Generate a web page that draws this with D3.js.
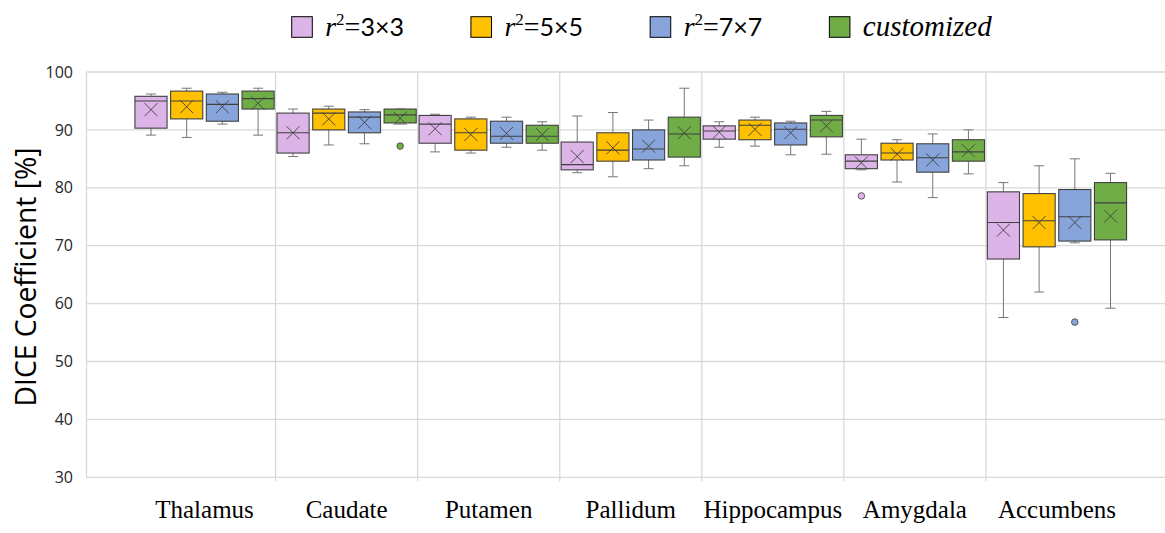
<!DOCTYPE html>
<meta charset="utf-8">
<head>
	<style type="text/css">
		body { margin: 0; background: #fff; }
		.grid line { stroke: #d9d9d9; stroke-width: 1.3; }
		.tick-label { font-family: "Open Sans", sans-serif; font-size: 16px; fill: #262626; }
		.cat-label { font-family: "Liberation Serif", "Times New Roman", serif; font-size: 25px; fill: #000; }
	</style>
	<title>DICE Coefficient by Structure</title>
</head>
<script src="https://cdn.jsdelivr.net/npm/d3@7"></script>
<svg width="1165" height="533" id="svg1"></svg>

<script>
	// data: [low whisker, q1, median, q3, high whisker, mean]
	const categories = ["Thalamus", "Caudate", "Putamen", "Pallidum", "Hippocampus", "Amygdala", "Accumbens"];
	const seriesNames = ["3×3", "5×5", "7×7", "customized"];

	const stats3x3 = [
		[89.1, 90.3, 95.0, 95.8, 96.2, 93.5],
		[85.4, 86.0, 89.5, 92.9, 93.6, 89.5],
		[86.2, 87.7, 91.0, 92.5, 92.7, 90.2],
		[82.6, 83.1, 84.0, 87.9, 92.4, 85.4],
		[87.0, 88.4, 89.8, 90.7, 91.4, 89.6],
		[83.1, 83.3, 84.6, 85.7, 88.4, 84.3],
		[57.6, 67.7, 74.0, 79.3, 80.9, 72.7]
	];
	const stats5x5 = [
		[88.7, 91.9, 95.0, 96.7, 97.2, 94.0],
		[87.4, 90.0, 92.9, 93.6, 94.1, 91.9],
		[86.0, 86.5, 89.5, 91.9, 92.2, 89.2],
		[81.9, 84.6, 86.5, 89.5, 93.0, 86.9],
		[87.2, 88.3, 90.8, 91.7, 92.2, 90.1],
		[81.0, 84.8, 86.0, 87.7, 88.3, 85.8],
		[62.0, 69.8, 74.3, 79.0, 83.8, 74.0]
	];
	const stats7x7 = [
		[91.0, 91.5, 94.4, 96.2, 96.5, 94.0],
		[87.6, 89.5, 92.2, 93.1, 93.5, 91.3],
		[87.0, 87.7, 88.9, 91.5, 92.2, 89.4],
		[83.3, 84.8, 86.7, 90.0, 91.7, 87.2],
		[85.7, 87.4, 90.1, 91.2, 91.5, 89.5],
		[78.3, 82.7, 85.2, 87.6, 89.3, 84.8],
		[70.5, 70.8, 75.0, 79.7, 85.0, 74.0]
	];
	const statsCustom = [
		[89.1, 93.6, 95.4, 96.7, 97.2, 94.6],
		[91.0, 91.2, 92.6, 93.6, 93.6, 92.0],
		[86.5, 87.7, 88.9, 90.8, 91.4, 89.2],
		[83.8, 85.3, 89.3, 92.2, 97.2, 89.5],
		[85.8, 88.8, 91.7, 92.5, 93.2, 90.7],
		[82.4, 84.6, 86.2, 88.3, 90.0, 86.4],
		[59.2, 71.0, 77.4, 80.9, 82.5, 75.1]
	];
	// outliers: [category, series index, value]
	const outliers = [
		["Caudate", 3, 87.2],
		["Amygdala", 0, 78.6],
		["Accumbens", 2, 56.8]
	];
	const yTicks = [30, 40, 50, 60, 70, 80, 90, 100];

	const allStats = [stats3x3, stats5x5, stats7x7, statsCustom];
	const colors = ["#dcb4e8", "#ffc000", "#87a5db", "#70ad47"];

	const svg1 = d3.select('#svg1');
	const width = +svg1.attr('width');

	const plotLeft = 86.5;

	const xScale = d3.scaleBand()
		.domain(categories)
		.range([133.5, 1128]);

	const sScale = d3.scaleBand()
		.domain(d3.range(seriesNames.length))
		.range([0, xScale.bandwidth()])
		.paddingInner(0.1)
		.paddingOuter(0.04);

	const yScale = d3.scaleLinear()
		.domain([30, 100])
		.range([477.3, 72]);

	//gridlines
	const grid = svg1.append('g').attr('class', 'grid');
	grid.selectAll('.hline')
		.data(yTicks)
		.enter().append('line')
		.attr('x1', plotLeft)
		.attr('x2', width)
		.attr('y1', d => yScale(d))
		.attr('y2', d => yScale(d));

	grid.append('line')
		.attr('x1', plotLeft).attr('x2', plotLeft)
		.attr('y1', yScale(100)).attr('y2', yScale(30));

	grid.selectAll('.vline')
		.data(categories.slice(1))
		.enter().append('line')
		.attr('x1', d => xScale(d))
		.attr('x2', d => xScale(d))
		.attr('y1', yScale(100))
		.attr('y2', yScale(30) + 4);

	//y axis
	const yAxis = d3.axisLeft(yScale)
		.tickValues(yTicks)
		.tickSize(0)
		.tickPadding(13.5);

	const yAxisG = svg1.append('g')
		.attr('transform', `translate(${plotLeft},0)`)
		.call(yAxis);
	yAxisG.select('.domain').remove();
	yAxisG.selectAll('text').attr('class', 'tick-label').attr('font-family', null).attr('font-size', null);

	//x axis labels
	const xAxis = d3.axisBottom(xScale).tickSize(0);
	const xAxisG = svg1.append('g')
		.attr('transform', `translate(0,${yScale(30)})`)
		.call(xAxis);
	xAxisG.select('.domain').remove();
	xAxisG.selectAll('text')
		.attr('class', 'cat-label')
		.attr('font-family', null).attr('font-size', null)
		.attr('dy', null)
		.attr('y', 40.7);

	//y title
	svg1.append('text')
		.attr('transform', 'translate(35.5,277) rotate(-90)')
		.attr('text-anchor', 'middle')
		.attr('font-family', '"Open Sans", sans-serif')
		.attr('font-size', '30px')
		.attr('fill', '#000')
		.attr('textLength', 259)
		.attr('lengthAdjust', 'spacingAndGlyphs')
		.text('DICE Coefficient [%]');

	//boxes
	const bw = sScale.bandwidth();
	const capW = 10;
	const xs = 6.5;

	allStats.forEach((stats, si) => {
		const g = svg1.append('g');
		stats.forEach((s, ci) => {
			const x0 = xScale(categories[ci]) + sScale(si);
			const cx = x0 + bw / 2;
			const [lo, q1, med, q3, hi, mean] = s;

			// whiskers
			g.append('line').attr('x1', cx).attr('x2', cx)
				.attr('y1', yScale(hi)).attr('y2', yScale(q3))
				.attr('stroke', '#767676').attr('stroke-width', 1);
			g.append('line').attr('x1', cx).attr('x2', cx)
				.attr('y1', yScale(q1)).attr('y2', yScale(lo))
				.attr('stroke', '#767676').attr('stroke-width', 1);
			[lo, hi].forEach(v => {
				g.append('line')
					.attr('x1', cx - capW / 2).attr('x2', cx + capW / 2)
					.attr('y1', yScale(v)).attr('y2', yScale(v))
					.attr('stroke', '#767676').attr('stroke-width', 1);
			});

			// box
			g.append('rect')
				.attr('x', x0)
				.attr('y', yScale(q3))
				.attr('width', bw)
				.attr('height', yScale(q1) - yScale(q3))
				.attr('fill', colors[si])
				.attr('stroke', '#404040')
				.attr('stroke-width', 1.1);

			// median
			g.append('line')
				.attr('x1', x0).attr('x2', x0 + bw)
				.attr('y1', yScale(med)).attr('y2', yScale(med))
				.attr('stroke', '#404040').attr('stroke-width', 1.1);

			// mean marker
			const my = yScale(mean);
			g.append('path')
				.attr('d', `M${cx - xs},${my - xs}L${cx + xs},${my + xs}M${cx - xs},${my + xs}L${cx + xs},${my - xs}`)
				.attr('stroke', '#404040')
				.attr('stroke-width', 0.9)
				.attr('fill', 'none');
		});
	});

	//outlier points
	svg1.selectAll('.outlier')
		.data(outliers)
		.enter().append('circle')
		.attr('class', 'outlier')
		.attr('cx', d => xScale(d[0]) + sScale(d[1]) + bw / 2)
		.attr('cy', d => yScale(d[2]))
		.attr('r', 3.3)
		.attr('fill', d => colors[d[1]])
		.attr('stroke', '#404040')
		.attr('stroke-width', 0.8);

	//legend
	const legend = svg1.append('g');
	let lx = 291.7;
	seriesNames.forEach((name, i) => {
		legend.append('rect')
			.attr('x', lx)
			.attr('y', 16.7)
			.attr('width', 20.6)
			.attr('height', 20.6)
			.attr('fill', colors[i])
			.attr('stroke', '#000')
			.attr('stroke-width', 1);

		const t = legend.append('text')
			.attr('x', lx + 33.5)
			.attr('y', 36)
			.attr('font-family', '"Liberation Serif", "Times New Roman", serif')
			.attr('font-size', '28px')
			.attr('fill', '#000');

		if (name === 'customized') {
			t.append('tspan').attr('font-style', 'italic').attr('font-size', '29px').text(name);
		} else {
			t.append('tspan').attr('font-style', 'italic').text('r');
			t.append('tspan').attr('font-size', '17px').attr('dy', -11).text('2');
			t.append('tspan').attr('dy', 11).text('=');
			t.append('tspan').attr('font-family', 'Lato, sans-serif').attr('font-size', '25px').text(name);
		}
		lx += 33.5 + t.node().getComputedTextLength() + 67;
	});
</script>
